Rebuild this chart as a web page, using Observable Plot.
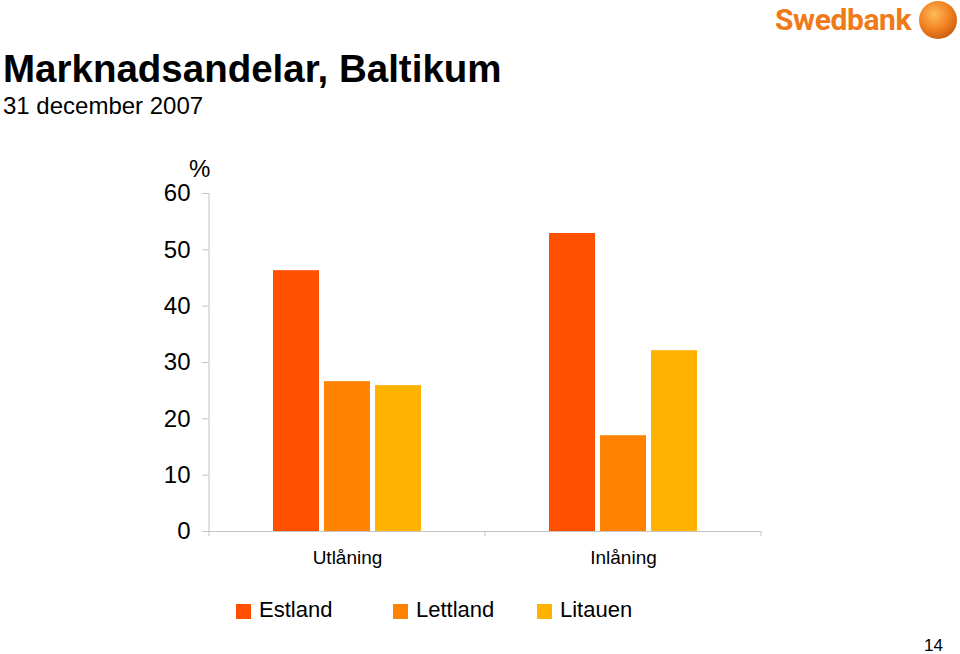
<!DOCTYPE html>
<html><head><meta charset="utf-8">
<script src="https://cdn.jsdelivr.net/npm/d3@7"></script>
<script src="https://cdn.jsdelivr.net/npm/@observablehq/plot@0.6"></script>
<style>
html,body{margin:0;padding:0;background:#fff;}
body{width:960px;height:654px;position:relative;overflow:hidden;font-family:"Liberation Sans",Arial,sans-serif;color:#000;}
.abs{position:absolute;line-height:1;white-space:nowrap;}
#chart{position:absolute;left:0;top:140px;}
#legend{position:absolute;left:236px;top:599px;display:flex;font-size:22px;line-height:1;}
.item{display:flex;align-items:center;}
.sw{width:15px;height:15px;margin-right:8px;margin-top:3px;}
#logo{position:absolute;left:775px;top:5px;font-family:Roboto,"Liberation Sans",sans-serif;font-weight:bold;font-size:30px;line-height:1;color:#EF7A18;letter-spacing:-0.4px;}
</style></head><body>
<div class="abs" style="left:3px;top:50px;font-size:38.5px;font-weight:bold;">Marknadsandelar, Baltikum</div>
<div class="abs" style="left:3px;top:94px;font-size:24px;">31 december 2007</div>
<div class="abs" style="left:189px;top:157px;font-size:24px;">%</div>
<div id="logo">Swedbank</div>
<svg class="abs" style="left:916px;top:0px;" width="44" height="42">
  <defs>
    <radialGradient id="g" cx="40%" cy="35%" r="70%">
      <stop offset="0" stop-color="#FDBA5A"/>
      <stop offset="0.6" stop-color="#F08020"/>
      <stop offset="1" stop-color="#C85A10"/>
    </radialGradient>
  </defs>
  <circle cx="22" cy="20" r="19" fill="url(#g)"/>
</svg>
<div id="chart"></div>
<div id="legend"></div>
<div class="abs" style="left:924px;top:637px;font-size:17px;">14</div>
<script>
const categories = ["Utlåning", "Inlåning"];
const countries = ["Estland", "Lettland", "Litauen"];
const estland = [46.3, 52.9];
const lettland = [26.6, 17.0];
const litauen = [25.9, 32.1];
const colors = ["#FF5000", "#FF8200", "#FFB300"];
const yTicks = [0, 10, 20, 30, 40, 50, 60];

const series = [estland, lettland, litauen];
const data = [];
categories.forEach((c, i) => countries.forEach((k, j) => data.push({category: c, country: k, value: series[j][i]})));

const axisGray = "#c4c4c4";
const chart = Plot.plot({
  width: 960,
  height: 460,
  marginLeft: 209,
  marginRight: 199,
  marginTop: 53,
  marginBottom: 69,
  style: {fontFamily: "Liberation Sans, Arial, sans-serif", fontSize: "24px", color: "#000", background: "transparent", overflow: "visible"},
  fx: {domain: categories, padding: 0},
  x: {domain: countries, paddingInner: 0.1, paddingOuter: 1.24, axis: null},
  y: {domain: [0, 60]},
  color: {domain: countries, range: colors},
  marks: [
    Plot.barY(data, {fx: "category", x: "country", y: "value", fill: "country"}),
    Plot.ruleY([0], {stroke: axisGray}),
    Plot.axisY({ticks: yTicks, tickSize: 7, tickPadding: 12, fontSize: 24, stroke: axisGray, fill: "#000", label: null}),
    Plot.axisFx({anchor: "bottom", tickSize: 0, tickPadding: 19, fontSize: 19, label: null})
  ]
});
document.getElementById("chart").appendChild(chart);

// y-axis line and category boundary ticks from the library's scales
const fx = chart.scale("fx"), y = chart.scale("y");
const svg = d3.select(chart);
const x0 = fx.apply(categories[0]);
svg.append("line").attr("x1", x0).attr("x2", x0)
  .attr("y1", y.apply(60)).attr("y2", y.apply(0)).attr("stroke", axisGray);
const bounds = [x0, ...categories.map(c => fx.apply(c) + fx.bandwidth)];
svg.append("g").selectAll("line").data(bounds).join("line")
  .attr("x1", d => d).attr("x2", d => d)
  .attr("y1", y.apply(0)).attr("y2", y.apply(0) + 5).attr("stroke", axisGray);

// legend
const widths = [157, 144, null];
const lg = d3.select("#legend");
countries.forEach((k, i) => {
  const it = lg.append("div").attr("class", "item");
  if (widths[i]) it.style("width", widths[i] + "px");
  it.append("div").attr("class", "sw").style("background", colors[i]);
  it.append("span").text(k);
});
</script>
</body></html>
